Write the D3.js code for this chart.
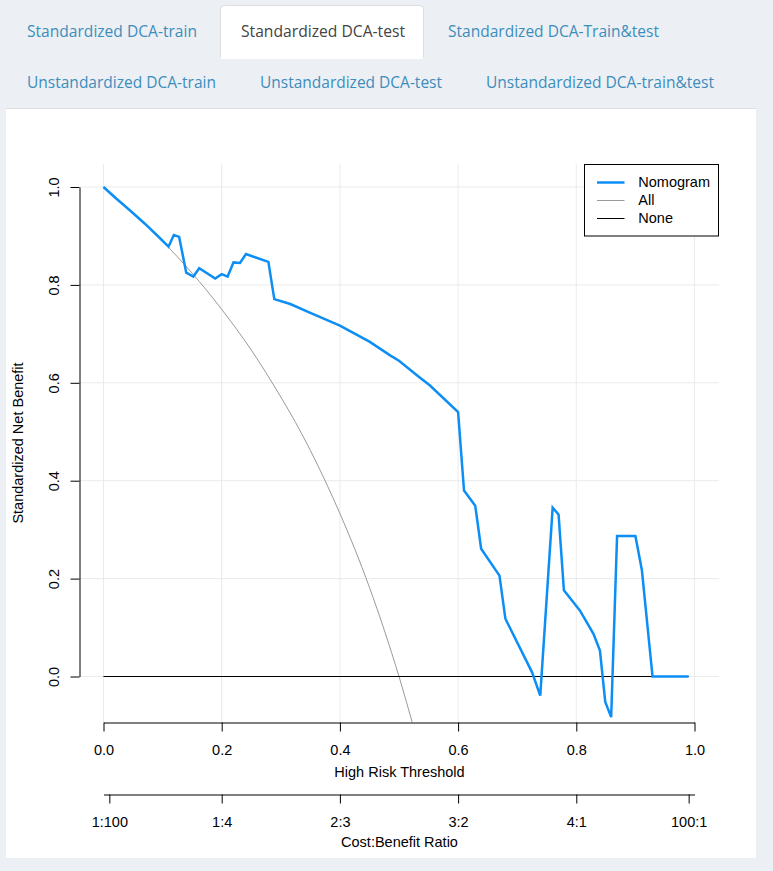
<!DOCTYPE html>
<html>
<head>
<meta charset="utf-8">
<script src="https://cdn.jsdelivr.net/npm/d3@7"></script>
<style>
  body { margin: 0; background: #ecf0f5; }
  svg { display: block; }
</style>
</head>
<body>
<div id="chart"></div>
<script>
// page size
const width = 773,
  height = 871

// tabs
const tabRow1 = ['Standardized DCA-train', 'Standardized DCA-test', 'Standardized DCA-Train&test']
const tabRow2 = ['Unstandardized DCA-train', 'Unstandardized DCA-test', 'Unstandardized DCA-train&test']
const activeTab = 'Standardized DCA-test'

// Nomogram
const nomoThreshold = [0, 0.02, 0.045, 0.07, 0.09, 0.110, 0.119, 0.128, 0.140, 0.152, 0.162, 0.189,
  0.200, 0.210, 0.220, 0.231, 0.241, 0.279, 0.289, 0.316, 0.35, 0.40, 0.45, 0.485, 0.50, 0.535,
  0.552, 0.60, 0.610, 0.629, 0.639, 0.670, 0.680, 0.725, 0.739, 0.760, 0.770, 0.779, 0.806,
  0.829, 0.840, 0.849, 0.859, 0.869, 0.900, 0.911, 0.929, 0.990]
const nomoBenefit = [1.0, 0.978, 0.952, 0.925, 0.902, 0.878, 0.902, 0.898, 0.825, 0.817, 0.834, 0.813,
  0.822, 0.817, 0.846, 0.845, 0.863, 0.847, 0.771, 0.761, 0.743, 0.717, 0.684, 0.656, 0.645, 0.611,
  0.595, 0.540, 0.380, 0.349, 0.261, 0.206, 0.118, 0.009, -0.039, 0.345, 0.331, 0.176, 0.135,
  0.087, 0.053, -0.052, -0.083, 0.287, 0.287, 0.217, 0.0, 0.0]

// All (treat everyone)
const allThreshold = [0, 0.05, 0.1, 0.15, 0.2, 0.25, 0.3, 0.325, 0.35, 0.375, 0.4, 0.425, 0.45, 0.475, 0.5, 0.525]
const allBenefit = [1.0, 0.947, 0.889, 0.824, 0.75, 0.667, 0.571, 0.519, 0.462, 0.4, 0.333, 0.261, 0.182, 0.095, 0.0, -0.105]

// None (treat no one)
const noneThreshold = [0, 0.99]
const noneBenefit = [0, 0]

// axes
const xTicks = [0, 0.2, 0.4, 0.6, 0.8, 1.0]
const yTicks = [0, 0.2, 0.4, 0.6, 0.8, 1.0]
const costBenefitLabels = ['1:100', '1:4', '2:3', '3:2', '4:1', '100:1']

// legend
const legendNames = ['Nomogram', 'All', 'None']
const legendColors = ['#0c8ef5', '#9a9a9a', '#000000']
const legendWidths = [2.5, 1, 1]

const svg = d3.select('#chart')
  .append('svg')
  .attr('width', width)
  .attr('height', height)

// --- tabs ---
svg.append('path')
  .attr('d', 'M220.5,57.5 V9.5 Q220.5,5.5 224.5,5.5 H419.5 Q423.5,5.5 423.5,9.5 V57.5')
  .attr('fill', '#fff')
  .attr('stroke', '#dddddd')
svg.append('rect')
  .attr('x', 221).attr('y', 56).attr('width', 202).attr('height', 3)
  .attr('fill', '#fff')

const tabBoxes1 = [[27, 170], [241, 164], [448, 211]]
const tabBoxes2 = [[27, 189], [260, 182], [486, 228]]
const drawTabs = (labels, boxes, y) => {
  svg.selectAll(null)
    .data(labels)
    .enter()
    .append('text')
    .attr('x', (d, i) => boxes[i][0])
    .attr('y', y)
    .attr('textLength', (d, i) => boxes[i][1])
    .attr('lengthAdjust', 'spacingAndGlyphs')
    .style('font-family', '"Open Sans", sans-serif')
    .style('font-size', '17px')
    .attr('fill', d => d === activeTab ? '#444444' : '#3c8dbc')
    .text(d => d)
}
drawTabs(tabRow1, tabBoxes1, 37)
drawTabs(tabRow2, tabBoxes2, 87.5)

// white panel
svg.append('line')
  .attr('x1', 6).attr('x2', 756).attr('y1', 108.5).attr('y2', 108.5)
  .attr('stroke', '#dddddd')
svg.append('rect')
  .attr('x', 6).attr('y', 109).attr('width', 750).attr('height', 749)
  .attr('fill', '#fff')

// --- chart ---
const region = { left: 80, right: 719, top: 164, bottom: 722 }

const xScale = d3.scaleLinear()
  .domain([0, 1])
  .range([103.5, 694.5])
const yScale = d3.scaleLinear()
  .domain([0, 1])
  .range([676.5, 187])

const font = '"Liberation Sans", Arial, sans-serif'
const fontSize = '14.5px'

// grid
svg.append('g')
  .selectAll('line')
  .data(xTicks)
  .enter()
  .append('line')
  .attr('x1', d => xScale(d)).attr('x2', d => xScale(d))
  .attr('y1', region.top).attr('y2', region.bottom)
  .attr('stroke', '#ebebeb')
svg.append('g')
  .selectAll('line')
  .data(yTicks)
  .enter()
  .append('line')
  .attr('x1', region.left).attr('x2', region.right)
  .attr('y1', d => yScale(d)).attr('y2', d => yScale(d))
  .attr('stroke', '#ebebeb')

svg.append('clipPath')
  .attr('id', 'plotclip')
  .append('rect')
  .attr('x', region.left).attr('y', region.top)
  .attr('width', region.right - region.left)
  .attr('height', region.bottom - region.top)

const plot = svg.append('g').attr('clip-path', 'url(#plotclip)')

const lineStraight = d3.line()
  .x(d => xScale(d[0]))
  .y(d => yScale(d[1]))
const lineSmooth = d3.line()
  .x(d => xScale(d[0]))
  .y(d => yScale(d[1]))
  .curve(d3.curveMonotoneX)

plot.append('path')
  .attr('d', lineSmooth(d3.zip(allThreshold, allBenefit)))
  .attr('fill', 'none')
  .attr('stroke', legendColors[1])
  .attr('stroke-width', legendWidths[1])
plot.append('path')
  .attr('d', lineStraight(d3.zip(noneThreshold, noneBenefit)))
  .attr('fill', 'none')
  .attr('stroke', legendColors[2])
  .attr('stroke-width', legendWidths[2])
plot.append('path')
  .attr('d', lineStraight(d3.zip(nomoThreshold, nomoBenefit)))
  .attr('fill', 'none')
  .attr('stroke', legendColors[0])
  .attr('stroke-width', legendWidths[0])

// x axis
let axisX = d3.axisBottom(xScale)
  .tickValues(xTicks)
  .tickFormat(d3.format('.1f'))
  .tickSize(9)
  .tickSizeOuter(0)
let gx = svg.append('g')
  .attr('transform', 'translate(0, 722.5)')
  .call(axisX)
gx.selectAll('text').attr('y', 22).style('font-size', fontSize).style('font-family', font).attr('fill', '#000')
gx.selectAll('line, path').attr('stroke', '#000')

// y axis
let axisY = d3.axisLeft(yScale)
  .tickValues(yTicks)
  .tickFormat(d3.format('.1f'))
  .tickSize(9)
  .tickSizeOuter(0)
let gy = svg.append('g')
  .attr('transform', 'translate(79.5, 0)')
  .call(axisY)
gy.selectAll('line, path').attr('stroke', '#000')
gy.selectAll('text')
  .attr('x', null).attr('dy', null)
  .attr('transform', 'translate(-21, 0) rotate(-90)')
  .attr('text-anchor', 'middle')
  .attr('y', 0)
  .style('font-size', fontSize).style('font-family', font).attr('fill', '#000')

// cost:benefit axis
const ratioToThreshold = s => {
  const p = s.split(':').map(Number)
  return p[0] / (p[0] + p[1])
}
let axisCB = d3.axisBottom(xScale)
  .tickValues(costBenefitLabels.map(ratioToThreshold))
  .tickFormat((d, i) => costBenefitLabels[i])
  .tickSize(9)
  .tickSizeOuter(0)
let gcb = svg.append('g')
  .attr('transform', 'translate(0, 794.5)')
  .call(axisCB)
gcb.selectAll('text').attr('y', 22).style('font-size', fontSize).style('font-family', font).attr('fill', '#000')
gcb.selectAll('line, path').attr('stroke', '#000')

// axis titles
const midX = (region.left + region.right) / 2
svg.append('text')
  .attr('x', midX).attr('y', 777)
  .attr('text-anchor', 'middle')
  .style('font-size', fontSize).style('font-family', font)
  .text('High Risk Threshold')
svg.append('text')
  .attr('x', midX).attr('y', 847)
  .attr('text-anchor', 'middle')
  .style('font-size', fontSize).style('font-family', font)
  .text('Cost:Benefit Ratio')
svg.append('text')
  .attr('transform', `translate(23, ${(region.top + region.bottom) / 2}) rotate(-90)`)
  .attr('text-anchor', 'middle')
  .style('font-size', fontSize).style('font-family', font)
  .text('Standardized Net Benefit')

// legend
const legend = svg.append('g')
legend.append('rect')
  .attr('x', 584.5).attr('y', 164.5).attr('width', 134).attr('height', 71.5)
  .attr('fill', '#fff').attr('stroke', '#000')
const rowY = d3.scalePoint().domain(legendNames).range([182, 218])
legend.selectAll('line')
  .data(legendNames)
  .enter()
  .append('line')
  .attr('x1', 597).attr('x2', 624.5)
  .attr('y1', d => rowY(d) + 0.5).attr('y2', d => rowY(d) + 0.5)
  .attr('stroke', (d, i) => legendColors[i])
  .attr('stroke-width', (d, i) => legendWidths[i])
legend.selectAll('text')
  .data(legendNames)
  .enter()
  .append('text')
  .attr('x', 638.3)
  .attr('y', d => rowY(d))
  .attr('dy', '0.35em')
  .style('font-size', fontSize).style('font-family', font)
  .text(d => d)
</script>
</body>
</html>
